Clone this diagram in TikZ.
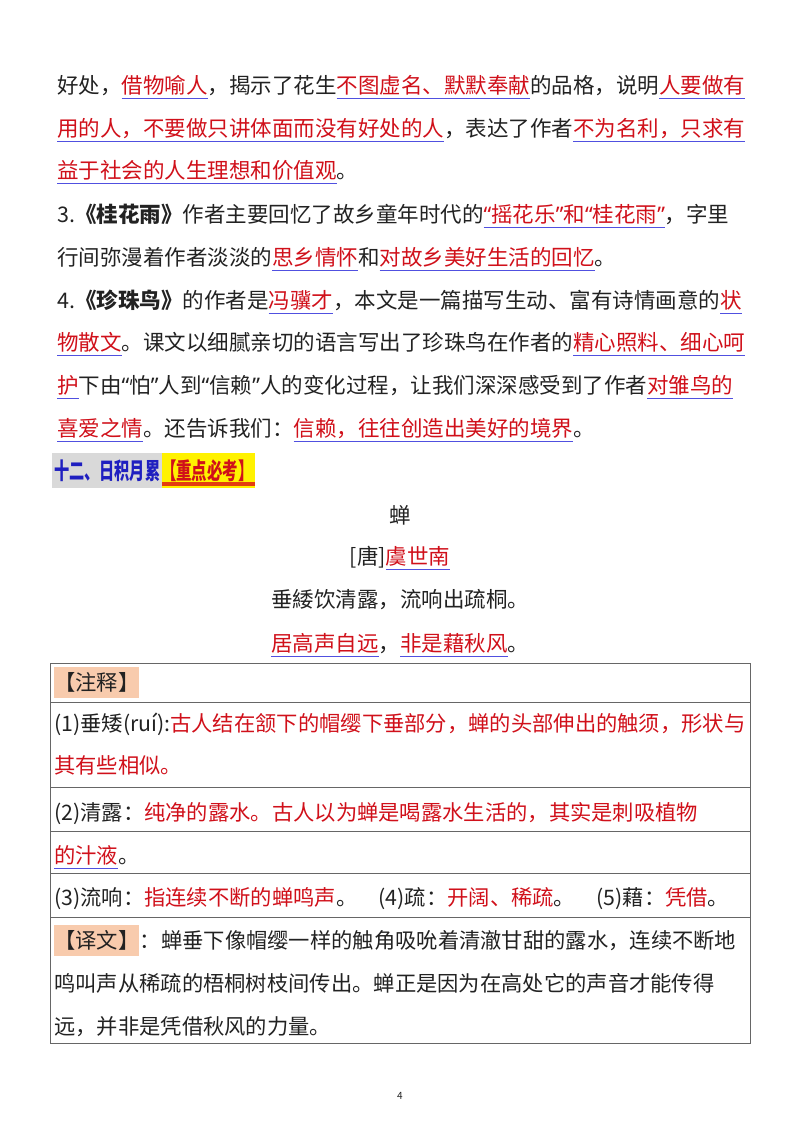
\documentclass[tikz,border=0pt]{standalone}
\usepackage{fontspec}
\usepackage{graphicx}
\setmainfont{Noto Sans CJK SC}
\newfontfamily\latf{Noto Sans}
\newcommand\lqq{{\latf “}}
\newcommand\rqq{{\latf ”}}
\definecolor{myred}{HTML}{D0101A}
\definecolor{ulc}{HTML}{5050E0}
\definecolor{txt}{HTML}{222222}
\definecolor{peach}{HTML}{F8CBAD}
\definecolor{hgray}{HTML}{D9D9D9}
\definecolor{hblue}{HTML}{1F1FC0}
\newcommand\ulr[1]{\setbox0\hbox{#1}\rlap{\color{ulc}\rule[-6pt]{\wd0}{1.3pt}}\textcolor{myred}{\box0}}
\newcommand\rd[1]{\textcolor{myred}{#1}}
\tikzset{ln/.style={anchor=base west,inner sep=0pt,font=\fontsize{21.5}{24}\selectfont,text=txt},
 tl/.style={anchor=base west,inner sep=0pt,font=\fontsize{21.3}{24}\selectfont,text=txt},
 ctr/.style={anchor=base,inner sep=0pt,font=\fontsize{21.5}{24}\selectfont,text=txt},
 tbl/.style={draw=black!60,line width=0.9pt},
 hd/.style={anchor=base west,inner sep=0pt,outer sep=0pt,font=\fontsize{23}{24}\selectfont\bfseries}}
\begin{document}
\begin{tikzpicture}[x=1pt,y=-1pt]
\useasboundingbox (0,0) rectangle (800,1132);
\node[ln] (l1) at (57,93) {好处，\ulr{借物喻人}，揭示了花生\ulr{不图虚名、默默奉献}的品格，说明\ulr{人要做有}};
\node[ln] (l2) at (57,136) {\ulr{用的人，不要做只讲体面而没有好处的人}，表达了作者\ulr{不为名利，只求有}};
\node[ln] (l3) at (57,178) {\ulr{益于社会的人生理想和价值观}。};
\node[ln] (l4) at (57,222) {3.\textbf{《桂花雨》}作者主要回忆了故乡童年时代的\ulr{\lqq 摇花乐\rqq 和\lqq 桂花雨\rqq}，字里};
\node[ln] (l5) at (57,265) {行间弥漫着作者淡淡的\ulr{思乡情怀}和\ulr{对故乡美好生活的回忆}。};
\node[ln] (l6) at (57,308) {4.\textbf{《珍珠鸟》}的作者是\ulr{冯骥才}，本文是一篇描写生动、富有诗情画意的\ulr{状}};
\node[ln] (l7) at (57,350) {\ulr{物散文}。课文以细腻亲切的语言写出了珍珠鸟在作者的\ulr{精心照料、细心呵}};
\node[ln] (l8) at (57,393) {\ulr{护}下由\lqq 怕\rqq 人到\lqq 信赖\rqq 人的变化过程，让我们深深感受到了作者\ulr{对雏鸟的}};
\node[ln] (l9) at (57,436) {\ulr{喜爱之情}。还告诉我们：\ulr{信赖，往往创造出美好的境界}。};
% heading
\fill[hgray] (52,453) rectangle (162,488);
\fill[yellow] (162,453) rectangle (255,488);
\fill[myred!60!orange] (162,482) rectangle (255,486);
\node[hd,text=hblue] (h1) at (54,479) {\scalebox{0.66}[1]{十二、日积月累}};
\node[hd,text=myred] (h2) at (161,479) {\scalebox{0.67}[1]{【重点必考】}};
% poem
\node[ctr] (t) at (400,523) {蝉};
\node[ctr] (a) at (400,564) {[唐]\ulr{虞世南}};
\node[ctr] (p1) at (400,607) {垂緌饮清露，流响出疏桐。};
\node[ctr] (p2) at (400,651) {\ulr{居高声自远}，\ulr{非是藉秋风}。};
% table
\draw[tbl] (50,663) rectangle (750,1043);
\foreach \yy in {702,787,831,873,917} \draw[tbl] (50,\yy) -- (750,\yy);
\node[tl,fill=peach,inner ysep=5pt,text depth=3pt] (z) at (54,690) {【注释】};
\node[tl] (r1) at (54,731) {(1)垂矮(ruí):\rd{古人结在颔下的帽缨下垂部分，蝉的头部伸出的触须，形状与}};
\node[tl] (r1b) at (54,773) {\rd{其有些相似。}};
\node[tl] (r2) at (54,820) {(2)清露：\rd{纯净的露水。古人以为蝉是喝露水生活的，其实是刺吸植物}};
\node[tl] (r2b) at (54,863) {\ulr{的汁液}。};
\node[tl] (r3) at (54,905) {(3)流响：\rd{指连续不断的蝉鸣声}。\quad(4)疏：\rd{开阔、稀疏}。\quad(5)藉：\rd{凭借}。};
\node[tl,fill=peach,inner ysep=5pt,text depth=3pt] (yw) at (54,948) {【译文】};
\node[tl] (y1) at (yw.base east) {：蝉垂下像帽缨一样的触角吸吮着清澈甘甜的露水，连续不断地};
\node[tl] (y2) at (54,991) {鸣叫声从稀疏的梧桐树枝间传出。蝉正是因为在高处它的声音才能传得};
\node[tl] (y3) at (54,1034) {远，并非是凭借秋风的力量。};
\node[ctr,font=\fontsize{10}{12}\selectfont] (pg) at (400,1099) {4};
\end{tikzpicture}
\end{document}
